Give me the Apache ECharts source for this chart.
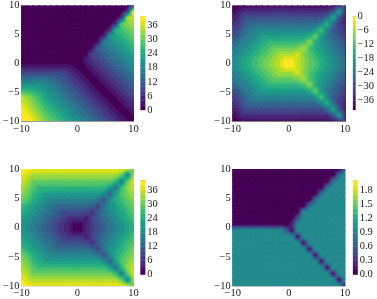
<!DOCTYPE html>
<html><head><meta charset="utf-8">
<style>html,body{margin:0;padding:0;background:#fff}#c{width:377px;height:299px}</style>
<script src="https://cdn.jsdelivr.net/npm/echarts@6/dist/echarts.min.js"></script>
</head><body><div id="c"></div>
<script>
const xGrid=[-10,-8.95,-7.89,-6.84,-5.79,-4.74,-3.68,-2.63,-1.58,-0.53,0.53,1.58,2.63,3.68,4.74,5.79,6.84,7.89,8.95,10];
const yGrid=[10,8.95,7.89,6.84,5.79,4.74,3.68,2.63,1.58,0.53,-0.53,-1.58,-2.63,-3.68,-4.74,-5.79,-6.84,-7.89,-8.95,-10];
const palette=['#440154','#481467','#482576','#453781','#404688','#39558c','#33638d','#2d718e','#287d8e','#238a8d','#1f968b','#20a386','#29af7f','#3dbc74','#56c667','#75d054','#95d840','#bade28','#dde318','#fde725'];

const panelA=[
[0,0,0,0,0,0,0,0,0,0,0,0,0,0,0,0,0,0,0,9],
[0,0,0,0,0,0,0,0,0,0,0,0,0,0,0,0,0,0,7,38],
[0,0,0,0,0,0,0,0,0,0,0,0,0,0,0,0,0,6,34,36],
[0,0,0,0,0,0,0,0,0,0,0,0,0,0,0,0,5,29.5,31.6,33.7],
[0,0,0,0,0,0,0,0,0,0,0,0,0,0,0,5,25.3,27.4,29.5,31.6],
[0,0,0,0,0,0,0,0,0,0,0,0,0,0,4,21,23.2,25.3,27.4,29.5],
[0,0,0,0,0,0,0,0,0,0,0,0,0,3,16.8,18.9,21,23.2,25.3,27.4],
[0,0,0,0,0,0,0,0,0,0,0,0,2,12.6,14.7,16.8,18.9,21,23.2,25.3],
[0,0,0,0,0,0,0,0,0,0,0,1.5,8.4,10.5,12.6,14.7,16.8,18.9,21,23.2],
[0,0,0,0,0,0,0,0,0,0,0.5,4.2,6.3,8.4,10.5,12.6,14.7,16.8,18.9,21],
[2.9,2.9,2.9,2.9,2.9,2.9,2.9,2.9,2.9,2.1,0,2.1,4.2,6.3,8.4,10.5,12.6,14.7,16.8,18.9],
[8.7,8.7,8.7,8.7,8.7,8.7,8.7,8.4,6.3,4.2,2.1,0,2.1,4.2,6.3,8.4,10.5,12.6,14.7,16.8],
[14.5,14.5,14.5,14.5,14.5,14.5,12.6,10.5,8.4,6.3,4.2,2.1,0,2.1,4.2,6.3,8.4,10.5,12.6,14.7],
[20.2,20.2,20.2,20.2,18.9,16.8,14.7,12.6,10.5,8.4,6.3,4.2,2.1,0,2.1,4.2,6.3,8.4,10.5,12.6],
[26,26,25.3,23.2,21,18.9,16.8,14.7,12.6,10.5,8.4,6.3,4.2,2.1,0,2.1,4.2,6.3,8.4,10.5],
[34.6,32.5,29.4,26.3,23.2,21,18.9,16.8,14.7,12.6,10.5,8.4,6.3,4.2,2.1,0,2.1,4.2,6.3,8.4],
[36.7,34.6,31.5,28.4,25.3,23.2,21,18.9,16.8,14.7,12.6,10.5,8.4,6.3,4.2,2.1,0,2.1,4.2,6.3],
[38.8,36.7,33.6,30.5,27.4,25.3,23.2,21,18.9,16.8,14.7,12.6,10.5,8.4,6.3,4.2,2.1,0,2.1,4.2],
[39.9,38.8,35.7,32.6,29.5,27.4,25.3,23.2,21,18.9,16.8,14.7,12.6,10.5,8.4,6.3,4.2,2.1,0,2.1],
[39.9,39.9,37.8,34.7,31.6,29.5,27.4,25.3,23.2,21,18.9,16.8,14.7,12.6,10.5,8.4,6.3,4.2,2.1,0]
];
const panelC=[
[39.5,39,38,38,38,38,38,38,38,38,38,38,38,38,38,38,38,38,34,30],
[38.1,36,34,34,34,34,34,34,34,34,34,34,34,34,34,34,34,29,18,33],
[36.2,34.1,30,30,30,30,30,30,30,30,30,30,30,30,30,30,26,16.5,29,36.8],
[34.3,32.2,28.1,26,26,26,26,26,26,26,26,26,26,26,26,22,15,26,32.7,35.3],
[32.4,30.3,26.2,24.1,22,22,22,22,22,22,22,22,22,22,19,12.5,22.5,28.4,31.1,33.7],
[30.5,28.4,24.3,22.2,20.1,18,18,18,18,18,18,18,18,15.5,10.5,19,24.2,26.8,29.5,32.1],
[26.6,24.5,22.4,20.3,18.2,16.1,14,14,14,14,14,14,12.5,8,15.5,20,22.6,25.2,27.9,30.5],
[24.7,22.6,20.5,18.4,16.3,14.2,12.1,10,10,10,10,9,6,12,15.7,18.4,21,23.6,26.3,28.9],
[22.8,20.7,18.6,16.5,14.4,12.3,10.2,8.1,6,6,6,3.5,8.5,11.6,14.2,16.9,19.5,22.1,24.8,27.4],
[21,18.9,16.8,14.7,12.6,10.5,8.4,6.3,4.2,1,1,4.7,7.4,10,12.6,15.3,17.9,20.5,23.2,25.8],
[21,18.9,16.8,14.7,12.6,10.5,8.4,6.3,4.2,1,1,4.7,7.4,10,12.6,15.3,17.9,20.5,23.2,25.8],
[22.8,20.7,18.6,16.5,14.4,12.3,10.2,8.1,6,6,6,3.5,8.5,11.6,14.2,16.9,19.5,22.1,24.8,27.4],
[24.7,22.6,20.5,18.4,16.3,14.2,12.1,10,10,10,10,9,6,12,15.7,18.4,21,23.6,26.3,28.9],
[26.6,24.5,22.4,20.3,18.2,16.1,14,14,14,14,14,14,12.5,8,15.5,20,22.6,25.2,27.9,30.5],
[30.5,28.4,24.3,22.2,20.1,18,18,18,18,18,18,18,18,15.5,10.5,19,24.2,26.8,29.5,32.1],
[32.4,30.3,26.2,24.1,22,22,22,22,22,22,22,22,22,22,19,12.5,22.5,28.4,31.1,33.7],
[34.3,32.2,28.1,26,26,26,26,26,26,26,26,26,26,26,26,22,15,26,32.7,35.3],
[36.2,34.1,30,30,30,30,30,30,30,30,30,30,30,30,30,30,26,16.5,29,36.8],
[38.1,36,34,34,34,34,34,34,34,34,34,34,34,34,34,34,34,29,18,33],
[39.5,39,38,38,38,38,38,38,38,38,38,38,38,38,38,38,38,38,34,30]
];
const panelB=[
[-39.5,-39,-38,-38,-38,-38,-38,-38,-38,-38,-38,-38,-38,-38,-38,-38,-38,-38,-34,-30],
[-38.1,-36,-34,-34,-34,-34,-34,-34,-34,-34,-34,-34,-34,-34,-34,-34,-34,-29,-18,-33],
[-36.2,-34.1,-30,-30,-30,-30,-30,-30,-30,-30,-30,-30,-30,-30,-30,-30,-26,-16.5,-29,-36.8],
[-34.3,-32.2,-28.1,-26,-26,-26,-26,-26,-26,-26,-26,-26,-26,-26,-26,-22,-15,-26,-32.7,-35.3],
[-32.4,-30.3,-26.2,-24.1,-22,-22,-22,-22,-22,-22,-22,-22,-22,-22,-19,-12.5,-22.5,-28.4,-31.1,-33.7],
[-30.5,-28.4,-24.3,-22.2,-20.1,-18,-18,-18,-18,-18,-18,-18,-18,-15.5,-10.5,-19,-24.2,-26.8,-29.5,-32.1],
[-26.6,-24.5,-22.4,-20.3,-18.2,-16.1,-14,-14,-14,-14,-14,-14,-12.5,-8,-15.5,-20,-22.6,-25.2,-27.9,-30.5],
[-24.7,-22.6,-20.5,-18.4,-16.3,-14.2,-12.1,-10,-10,-10,-10,-9,-6,-12,-15.7,-18.4,-21,-23.6,-26.3,-28.9],
[-22.8,-20.7,-18.6,-16.5,-14.4,-12.3,-10.2,-8.1,-6,-6,-6,-3.5,-8.5,-11.6,-14.2,-16.9,-19.5,-22.1,-24.8,-27.4],
[-21,-18.9,-16.8,-14.7,-12.6,-10.5,-8.4,-6.3,-4.2,-1,-1,-4.7,-7.4,-10,-12.6,-15.3,-17.9,-20.5,-23.2,-25.8],
[-21,-18.9,-16.8,-14.7,-12.6,-10.5,-8.4,-6.3,-4.2,-1,-1,-4.7,-7.4,-10,-12.6,-15.3,-17.9,-20.5,-23.2,-25.8],
[-22.8,-20.7,-18.6,-16.5,-14.4,-12.3,-10.2,-8.1,-6,-6,-6,-3.5,-8.5,-11.6,-14.2,-16.9,-19.5,-22.1,-24.8,-27.4],
[-24.7,-22.6,-20.5,-18.4,-16.3,-14.2,-12.1,-10,-10,-10,-10,-9,-6,-12,-15.7,-18.4,-21,-23.6,-26.3,-28.9],
[-26.6,-24.5,-22.4,-20.3,-18.2,-16.1,-14,-14,-14,-14,-14,-14,-12.5,-8,-15.5,-20,-22.6,-25.2,-27.9,-30.5],
[-30.5,-28.4,-24.3,-22.2,-20.1,-18,-18,-18,-18,-18,-18,-18,-18,-15.5,-10.5,-19,-24.2,-26.8,-29.5,-32.1],
[-32.4,-30.3,-26.2,-24.1,-22,-22,-22,-22,-22,-22,-22,-22,-22,-22,-19,-12.5,-22.5,-28.4,-31.1,-33.7],
[-34.3,-32.2,-28.1,-26,-26,-26,-26,-26,-26,-26,-26,-26,-26,-26,-26,-22,-15,-26,-32.7,-35.3],
[-36.2,-34.1,-30,-30,-30,-30,-30,-30,-30,-30,-30,-30,-30,-30,-30,-30,-26,-16.5,-29,-36.8],
[-38.1,-36,-34,-34,-34,-34,-34,-34,-34,-34,-34,-34,-34,-34,-34,-34,-34,-29,-18,-33],
[-39.5,-39,-38,-38,-38,-38,-38,-38,-38,-38,-38,-38,-38,-38,-38,-38,-38,-38,-34,-30]
];
const panelD=[
[0,0,0,0,0,0,0,0,0,0,0,0,0,0,0,0,0,0,0,0.5],
[0,0,0,0,0,0,0,0,0,0,0,0,0,0,0,0,0,0,0.7,0.98],
[0,0,0,0,0,0,0,0,0,0,0,0,0,0,0,0,0,0.7,0.98,0.98],
[0,0,0,0,0,0,0,0,0,0,0,0,0,0,0,0,0.7,0.98,0.98,0.98],
[0,0,0,0,0,0,0,0,0,0,0,0,0,0,0,0.7,0.98,0.98,0.98,0.98],
[0,0,0,0,0,0,0,0,0,0,0,0,0,0,0.7,0.98,0.98,0.98,0.98,0.98],
[0,0,0,0,0,0,0,0,0,0,0,0,0,0.7,0.98,0.98,0.98,0.98,0.98,0.98],
[0,0,0,0,0,0,0,0,0,0,0,0,0.98,0.98,0.98,0.98,0.98,0.98,0.98,0.98],
[0,0,0,0,0,0,0,0,0,0,0,0.5,0.98,0.98,0.98,0.98,0.98,0.98,0.98,0.98],
[0,0,0,0,0,0,0,0,0,0,0.2,0.98,0.98,0.98,0.98,0.98,0.98,0.98,0.98,0.98],
[0.98,0.98,0.98,0.98,0.98,0.98,0.98,0.98,0.98,0.6,0.1,0.98,0.98,0.98,0.98,0.98,0.98,0.98,0.98,0.98],
[0.98,0.98,0.98,0.98,0.98,0.98,0.98,0.98,0.98,0.98,0.98,0.1,0.98,0.98,0.98,0.98,0.98,0.98,0.98,0.98],
[0.98,0.98,0.98,0.98,0.98,0.98,0.98,0.98,0.98,0.98,0.98,0.98,0.1,0.98,0.98,0.98,0.98,0.98,0.98,0.98],
[0.98,0.98,0.98,0.98,0.98,0.98,0.98,0.98,0.98,0.98,0.98,0.98,0.98,0.1,0.98,0.98,0.98,0.98,0.98,0.98],
[0.98,0.98,0.98,0.98,0.98,0.98,0.98,0.98,0.98,0.98,0.98,0.98,0.98,0.98,0.1,0.98,0.98,0.98,0.98,0.98],
[0.98,0.98,0.98,0.98,0.98,0.98,0.98,0.98,0.98,0.98,0.98,0.98,0.98,0.98,0.98,0.1,0.98,0.98,0.98,0.98],
[0.98,0.98,0.98,0.98,0.98,0.98,0.98,0.98,0.98,0.98,0.98,0.98,0.98,0.98,0.98,0.98,0.1,0.98,0.98,0.98],
[0.98,0.98,0.98,0.98,0.98,0.98,0.98,0.98,0.98,0.98,0.98,0.98,0.98,0.98,0.98,0.98,0.98,0.1,0.98,0.98],
[0.98,0.98,0.98,0.98,0.98,0.98,0.98,0.98,0.98,0.98,0.98,0.98,0.98,0.98,0.98,0.98,0.98,0.98,0.1,0.98],
[0.98,0.98,0.98,0.98,0.98,0.98,0.98,0.98,0.98,0.98,0.98,0.98,0.98,0.98,0.98,0.98,0.98,0.98,0.98,0.1]
];
const levelsA=[0,2,4,6,8,10,12,14,16,18,20,22,24,26,28,30,32,34,36,38,40];
const levelsB=[-40,-38,-36,-34,-32,-30,-28,-26,-24,-22,-20,-18,-16,-14,-12,-10,-8,-6,-4,-2,0];
const levelsD=[0,0.1,0.2,0.3,0.4,0.5,0.6,0.7,0.8,0.9,1,1.1,1.2,1.3,1.4,1.5,1.6,1.7,1.8,1.9,2];
const ticksA=[0,6,12,18,24,30,36];
const ticksB=[-36,-30,-24,-18,-12,-6,0];
const ticksD=[0,0.3,0.6,0.9,1.2,1.5,1.8];

const panels=[
 {z:panelA,lv:levelsA,t:ticksA,d:0,box:[19.5,5,114,116.5],bar:[140.5,16,4.7,94],line:'#999999',cap:'#999999'},
 {z:panelB,lv:levelsB,t:ticksB,d:0,box:[232.7,5,112.3,116.5],bar:[353,16,4.7,94],line:'#808080',cap:'#999999',edge:'#2b3a6b'},
 {z:panelC,lv:levelsA,t:ticksA,d:0,box:[19.5,169,114,117],bar:[140.5,180.7,4.7,94],line:'#e2e2e2',cap:'#bbbbbb'},
 {z:panelD,lv:levelsD,t:ticksD,d:1,box:[232.7,169,112.3,117],bar:[353,180.7,4.7,94],line:'#b8c8c8',cap:'#d5d5d5'}
];
const font={fontFamily:'"Liberation Serif"',fontSize:10.5,color:'#1a1a1a'};
const fmt=(v,d)=>(v<0?'\u2212':'')+Math.abs(v).toFixed(d);

function clip(poly,level,above){
  const out=[];
  for(let k=0;k<poly.length;k++){
    const a=poly[k],b=poly[(k+1)%poly.length];
    const ia=above?a[2]>=level:a[2]<=level, ib=above?b[2]>=level:b[2]<=level;
    if(ia)out.push(a);
    if(ia!==ib){const t=(level-a[2])/(b[2]-a[2]);out.push([a[0]+t*(b[0]-a[0]),a[1]+t*(b[1]-a[1]),level]);}
  }
  return out;
}
function contourCell(P){
  return function(params,api){
    const i=api.value(2),j=api.value(3),z=P.z,lv=P.lv;
    const q=[[xGrid[i],yGrid[j],z[j][i]],[xGrid[i+1],yGrid[j],z[j][i+1]],[xGrid[i+1],yGrid[j+1],z[j+1][i+1]],[xGrid[i],yGrid[j+1],z[j+1][i]]];
    const c=[(q[0][0]+q[1][0])/2,(q[0][1]+q[3][1])/2,(q[0][2]+q[1][2]+q[2][2]+q[3][2])/4];
    const children=[];
    for(let k=0;k<4;k++){
      const tri=[q[k],q[(k+1)%4],c];
      const vs=tri.map(p=>p[2]),mn=Math.min(...vs),mx=Math.max(...vs);
      for(let b=0;b<lv.length-1;b++){
        const lo=lv[b]-1e-9,hi=lv[b+1]+1e-9;
        if(mx<lo||mn>hi)continue;
        if(mx<=lv[b]+1e-9&&mn<mx)continue;
        if(mn>=lv[b+1]-1e-9&&mn<mx)continue;
        const poly=clip(clip(tri,lo,true),hi,false);
        if(poly.length<3)continue;
        children.push({type:'polygon',shape:{points:poly.map(p=>api.coord([p[0],p[1]]))},
          style:{fill:palette[b],stroke:palette[b],lineWidth:1}});
      }
    }
    return {type:'group',children};
  };
}
function barBand(P){
  return function(params,api){
    const b=api.value(2);
    const p0=api.coord([0,api.value(0)]),p1=api.coord([1,api.value(1)]);
    return {type:'rect',shape:{x:p0[0],y:p1[1],width:p1[0]-p0[0],height:p0[1]-p1[1]},
      style:{fill:palette[b],stroke:palette[b],lineWidth:0.3}};
  };
}
const grid=[],xAxis=[],yAxis=[],series=[];
panels.forEach((P,n)=>{
  const g=grid.length;
  grid.push({left:P.box[0],top:P.box[1],width:P.box[2],height:P.box[3],containLabel:false});
  xAxis.push({type:'value',gridIndex:g,min:-10,max:10,interval:10,splitLine:{show:false},z:5,
    axisLine:{show:true,onZero:false,lineStyle:{color:P.line,width:1}},axisTick:{show:false},
    axisLabel:Object.assign({margin:2,hideOverlap:false,showMinLabel:true,showMaxLabel:true,formatter:v=>fmt(v,0)},font)});
  yAxis.push({type:'value',gridIndex:g,min:-10,max:10,interval:5,splitLine:{show:false},
    axisLine:{show:false,onZero:false},axisTick:{show:false},
    axisLabel:Object.assign({margin:2,hideOverlap:false,showMinLabel:true,showMaxLabel:true,formatter:v=>fmt(v,0)},font)});
  const cells=[];
  for(let j=0;j<yGrid.length-1;j++)for(let i=0;i<xGrid.length-1;i++)cells.push([xGrid[i],yGrid[j],i,j,P.z[j][i]]);
  const s={type:'custom',xAxisIndex:g,yAxisIndex:g,clip:true,silent:true,animation:false,
    encode:{x:0,y:1},data:cells,renderItem:contourCell(P)};
  if(P.edge)s.markLine={silent:true,symbol:'none',animation:false,label:{show:false},lineStyle:{color:P.edge,width:1,type:'solid'},data:[{xAxis:10}]};
  series.push(s);
  const h=grid.length;
  grid.push({left:P.bar[0],top:P.bar[1],width:P.bar[2],height:P.bar[3]});
  xAxis.push({type:'value',gridIndex:h,min:0,max:1,position:'top',splitLine:{show:false},
    axisLine:{show:true,onZero:false,lineStyle:{color:P.cap,width:1}},axisTick:{show:false},axisLabel:{show:false}});
  yAxis.push({type:'value',gridIndex:h,min:P.lv[0],max:P.lv[P.lv.length-1],position:'right',
    splitLine:{show:false},axisLine:{show:false,onZero:false},
    axisTick:{show:false,customValues:P.t},
    axisLabel:Object.assign({margin:2,customValues:P.t,hideOverlap:false,formatter:v=>fmt(v,P.d)},font)});
  const bands=[];
  for(let b=0;b<P.lv.length-1;b++)bands.push([P.lv[b],P.lv[b+1],b]);
  series.push({type:'custom',xAxisIndex:h,yAxisIndex:h,silent:true,animation:false,
    encode:{y:[0,1]},data:bands,renderItem:barBand(P)});
});
const chart=echarts.init(document.getElementById('c'),null,{renderer:'canvas'});
chart.setOption({animation:false,backgroundColor:'#fff',grid,xAxis,yAxis,series});
</script></body></html>
